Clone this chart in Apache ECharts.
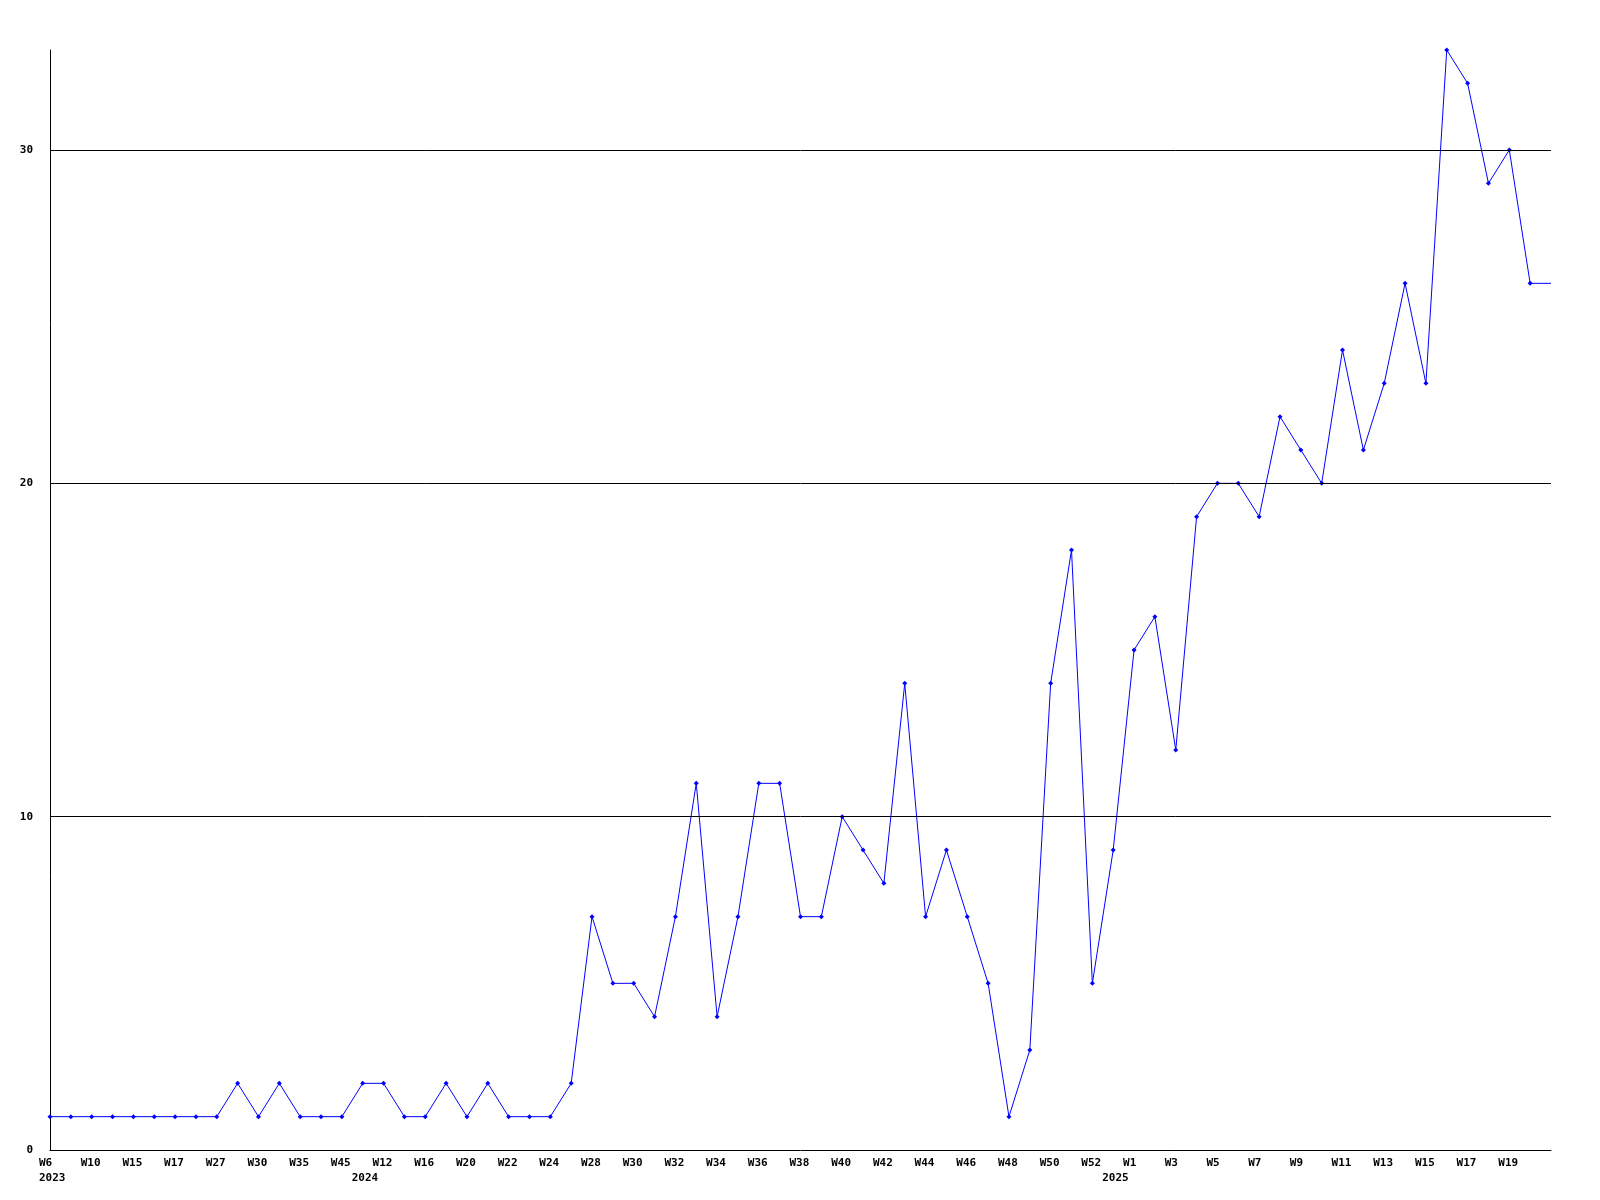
<!DOCTYPE html>
<html>
<head>
<meta charset="utf-8">
<script src="https://cdn.jsdelivr.net/npm/echarts@6/dist/echarts.min.js"></script>
<style>
  html, body { margin: 0; padding: 0; background: #ffffff; }
  #chart { width: 1600px; height: 1200px; }
</style>
</head>
<body>
<div id="chart"></div>
<script>
// Categories (one per weekly point)
const categories = [
  "2023 W6", "2023 W8", "2023 W10", "2023 W12", "2023 W15", "2023 W16", "2023 W17", "2023 W20",
  "2023 W27", "2023 W28", "2023 W30", "2023 W32", "2023 W35", "2023 W40", "2023 W45",
  "2024 W5", "2024 W12", "2024 W14", "2024 W16", "2024 W18", "2024 W20", "2024 W21", "2024 W22",
  "2024 W23", "2024 W24", "2024 W26", "2024 W28", "2024 W29", "2024 W30", "2024 W31", "2024 W32",
  "2024 W33", "2024 W34", "2024 W35", "2024 W36", "2024 W37", "2024 W38", "2024 W39", "2024 W40",
  "2024 W41", "2024 W42", "2024 W43", "2024 W44", "2024 W45", "2024 W46", "2024 W47", "2024 W48",
  "2024 W49", "2024 W50", "2024 W51", "2024 W52", "2025 W0", "2025 W1", "2025 W2", "2025 W3",
  "2025 W4", "2025 W5", "2025 W6", "2025 W7", "2025 W8", "2025 W9", "2025 W10", "2025 W11",
  "2025 W12", "2025 W13", "2025 W14", "2025 W15", "2025 W16", "2025 W17", "2025 W18", "2025 W19",
  "2025 W20", "2025 W21"
];

// Series values
const values = [
  1, 1, 1, 1, 1, 1, 1, 1,
  1, 2, 1, 2, 1, 1, 1,
  2, 2, 1, 1, 2, 1, 2, 1,
  1, 1, 2, 7, 5, 5, 4, 7,
  11, 4, 7, 11, 11, 7, 7, 10,
  9, 8, 14, 7, 9, 7, 5, 1,
  3, 14, 18, 5, 9, 15, 16, 12,
  19, 20, 20, 19, 22, 21, 20, 24,
  21, 23, 26, 23, 33, 32, 29, 30,
  26, 26
];

// Tick labels shown under the x axis (week row and year row)
const weekTickLabels = [
  "W6", "", "W10", "", "W15", "", "W17", "",
  "W27", "", "W30", "", "W35", "", "W45",
  "", "W12", "", "W16", "", "W20", "", "W22",
  "", "W24", "", "W28", "", "W30", "", "W32",
  "", "W34", "", "W36", "", "W38", "", "W40",
  "", "W42", "", "W44", "", "W46", "", "W48",
  "", "W50", "", "W52", "", "W1", "", "W3",
  "", "W5", "", "W7", "", "W9", "", "W11",
  "", "W13", "", "W15", "", "W17", "", "W19",
  "", ""
];
const yearTickLabels = { 0: "2023", 15: "2024", 51: "2025" };

// Y axis
const yMin = 0, yMax = 33, yStep = 10;
const gridValues = [10, 20, 30];

const font = '"DejaVu Sans Mono", "Liberation Mono", monospace';

const chart = echarts.init(document.getElementById('chart'), null, { renderer: 'canvas' });
chart.setOption({
  animation: false,
  backgroundColor: '#ffffff',
  grid: [
    { left: 50, right: 49, top: 50, bottom: 50, containLabel: false },
    // label grid: same width, shifted 11px left so labels start just left of each point
    { left: 39, right: 60, top: 50, bottom: 50, containLabel: false }
  ],
  xAxis: [{
    type: 'category',
    gridIndex: 0,
    data: categories,
    boundaryGap: false,
    axisLine: { show: true, lineStyle: { color: '#000000', width: 1 } },
    axisTick: { show: false },
    splitLine: { show: false },
    axisLabel: { show: false }
  }, {
    type: 'category',
    gridIndex: 1,
    data: categories,
    boundaryGap: false,
    axisLine: { show: false },
    axisTick: { show: false },
    splitLine: { show: false },
    axisLabel: {
      interval: 0,
      align: 'left',
      margin: 6,
      color: '#000000',
      fontFamily: font,
      fontWeight: 'bold',
      fontSize: 11,
      lineHeight: 15,
      formatter: function (val, idx) {
        const w = weekTickLabels[idx] || '';
        const y = yearTickLabels[idx];
        if (y) return w + '\n' + y;
        return w;
      }
    }
  }],
  yAxis: [{
    type: 'value',
    gridIndex: 0,
    min: yMin,
    max: yMax,
    interval: yStep,
    axisLine: { show: true, lineStyle: { color: '#000000', width: 1 } },
    axisTick: { show: false },
    splitLine: { show: false },
    axisLabel: {
      showMaxLabel: false,
      margin: 17,
      color: '#000000',
      fontFamily: font,
      fontWeight: 'bold',
      fontSize: 11
    }
  }, {
    type: 'value',
    gridIndex: 1,
    min: yMin,
    max: yMax,
    show: false
  }],
  series: [{
    type: 'line',
    xAxisIndex: 0,
    yAxisIndex: 0,
    data: values.map(function (v, i) {
      return i === values.length - 1 ? { value: v, symbol: 'none' } : v;
    }),
    smooth: false,
    symbol: 'diamond',
    symbolSize: 5,
    showSymbol: true,
    lineStyle: { color: '#0000ff', width: 1 },
    itemStyle: { color: '#0000ff' },
    emphasis: { disabled: true },
    markLine: {
      silent: true,
      symbol: ['none', 'none'],
      label: { show: false },
      lineStyle: { color: '#000000', width: 1, type: 'solid' },
      data: gridValues.map(function (g) { return { yAxis: g }; })
    }
  }]
});
</script>
</body>
</html>
